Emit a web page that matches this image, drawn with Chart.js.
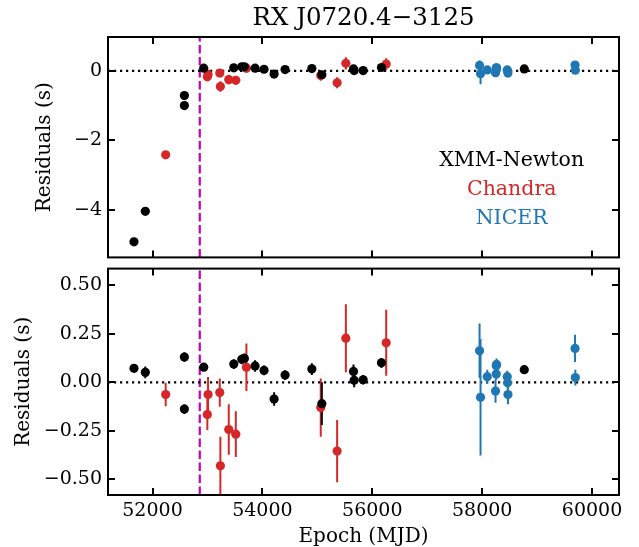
<!DOCTYPE html>
<html><head><meta charset="utf-8">
<script src="https://cdn.jsdelivr.net/npm/chart.js@4/dist/chart.umd.min.js"></script>
<style>
html,body{margin:0;padding:0;background:#fff;}
#wrap{position:relative;width:639px;height:547px;overflow:hidden;}
#c1,#c2{position:absolute;left:0;}
#c1{top:0;}
#c2{top:264px;}
</style></head><body>
<div id="wrap"><canvas id="c1" width="639" height="262"></canvas><canvas id="c2" width="639" height="283"></canvas></div>
<script>
// ---------- data ----------
const title = 'RX J0720.4\u22123125';
const xLimits = [51190, 60490];
const glitchMJD = 52860;
const xTickValues = [52000, 54000, 56000, 58000, 60000];

// XMM-Newton
const xmmMJD  = [51663, 51869, 52580, 52580, 52932, 53479, 53625, 53672, 53867, 54030, 54213, 54413, 54900, 55082, 55658, 55670, 55834, 56167, 58766];
const xmmTop  = [-4.93, -4.05, -0.71, -1.00, 0.08, 0.09, 0.12, 0.12, 0.08, 0.05, -0.09, 0.04, 0.07, -0.11, 0.06, 0.01, 0.01, 0.10, 0.06];
const xmmRes  = [0.072, 0.051, 0.130, -0.138, 0.078, 0.094, 0.118, 0.123, 0.084, 0.061, -0.086, 0.037, 0.068, -0.110, 0.056, 0.010, 0.013, 0.100, 0.065];
const xmmErr  = [0.020, 0.030, 0.025, 0.025, 0.020, 0.025, 0.025, 0.025, 0.030, 0.025, 0.035, 0.025, 0.030, 0.110, 0.035, 0.035, 0.025, 0.025, 0.010];

// Chandra
const chaMJD  = [52240, 53011, 52998, 53224, 53235, 53388, 53516, 53709, 55062, 55360, 55519, 56253];
const chaTop  = [-2.42, -0.10, -0.17, -0.06, -0.45, -0.25, -0.27, 0.08, -0.13, -0.34, 0.22, 0.20];
const chaRes  = [-0.063, -0.063, -0.166, -0.053, -0.430, -0.243, -0.267, 0.077, -0.130, -0.354, 0.227, 0.203];
const chaErr  = [0.060, 0.090, 0.080, 0.073, 0.150, 0.130, 0.118, 0.122, 0.150, 0.160, 0.175, 0.170];

// NICER
const nicMJD  = [57952, 57970, 58092, 58243, 58256, 58262, 58256, 58456, 58462, 58469, 59690, 59695];
const nicTop  = [0.16, -0.08, 0.03, -0.05, 0.09, 0.09, 0.04, 0.03, 0.00, -0.06, 0.17, 0.02];
const nicRes  = [0.162, -0.077, 0.029, -0.045, 0.085, 0.092, 0.043, 0.029, -0.002, -0.063, 0.174, 0.024];
const nicErr  = [0.140, 0.300, 0.035, 0.060, 0.030, 0.030, 0.030, 0.030, 0.030, 0.050, 0.070, 0.040];

const topYLimits = [-5.38, 0.98];
const topYTicks = [-4, -2, 0];
const botYLimits = [-0.58, 0.585];
const botYTicks = [-0.5, -0.25, 0, 0.25, 0.5];

const legendLabels = ['XMM-Newton', 'Chandra', 'NICER'];
const colors = {xmm: '#000000', cha: '#d62728', nic: '#1f77b4'};
const legendColors = [colors.xmm, colors.cha, colors.nic];

// ---------- helpers ----------
Chart.defaults.font.family = "'DejaVu Serif', serif";
Chart.defaults.color = '#000';

function pts(m, v) { return m.map((x, i) => ({x: x, y: v[i]})); }
function bars(m, v, e) {
  const d = [];
  m.forEach((x, i) => { d.push({x: x, y: v[i] - e[i]}, {x: x, y: v[i] + e[i]}, {x: x, y: null}); });
  return d;
}
const minus = s => s.replace('-', '\u2212');

function datasets(top) {
  const yl = top ? topYLimits : botYLimits;
  const sets = [];
  const series = [
    [xmmMJD, top ? xmmTop : xmmRes, xmmErr, colors.xmm],
    [chaMJD, top ? chaTop : chaRes, chaErr, colors.cha],
    [nicMJD, top ? nicTop : nicRes, nicErr, colors.nic]
  ];
  series.forEach(s => {
    sets.push({data: pts(s[0], s[1]), showLine: false, pointRadius: 4.6, pointBorderWidth: 0,
      pointBackgroundColor: s[3], borderColor: s[3], backgroundColor: s[3]});
  });
  series.forEach(s => {
    sets.push({data: bars(s[0], s[1], s[2]), showLine: true, spanGaps: false, pointRadius: 0,
      borderWidth: 2, borderColor: s[3]});
  });
  sets.push({data: [{x: xLimits[0], y: 0}, {x: xLimits[1], y: 0}], pointRadius: 0, borderWidth: 2.2,
    borderColor: '#000', borderDash: [2.2, 3.8]});
  sets.push({data: [{x: glitchMJD, y: yl[0]}, {x: glitchMJD, y: yl[1]}], pointRadius: 0, borderWidth: 2.2,
    borderColor: '#bf00bf', borderDash: [8.5, 3.5]});
  return sets;
}

const frame = {
  id: 'frame',
  afterDatasetsDraw(chart) {
    const {ctx, chartArea: {left, right, top, bottom}, scales: {x, y}} = chart;
    const L = 7;
    ctx.save();
    ctx.strokeStyle = '#000';
    ctx.lineWidth = 2;
    ctx.beginPath();
    x.ticks.forEach(t => {
      const p = Math.round(x.getPixelForValue(t.value));
      ctx.moveTo(p, top); ctx.lineTo(p, top + L);
      ctx.moveTo(p, bottom); ctx.lineTo(p, bottom - L);
    });
    y.ticks.forEach(t => {
      const p = Math.round(y.getPixelForValue(t.value));
      ctx.moveTo(left, p); ctx.lineTo(left + L, p);
      ctx.moveTo(right, p); ctx.lineTo(right - L, p);
    });
    ctx.stroke();
    ctx.strokeRect(left, top, right - left, bottom - top);
    if (chart.canvas.id === 'c1') {
      ctx.font = "20.5px 'DejaVu Serif', serif";
      ctx.textAlign = 'center';
      ctx.textBaseline = 'middle';
      const fy = [0.563, 0.693, 0.825];
      legendLabels.forEach((lab, i) => {
        ctx.fillStyle = legendColors[i];
        ctx.fillText(lab, left + 0.79 * (right - left), top + fy[i] * (bottom - top));
      });
    }
    ctx.restore();
  }
};

function setTicks(values) {
  return s => { s.ticks = values.map(v => ({value: v})); };
}

function makeChart(id, top) {
  const yl = top ? topYLimits : botYLimits;
  return new Chart(document.getElementById(id), {
    type: 'line',
    data: {datasets: datasets(top)},
    plugins: [frame],
    options: {
      responsive: false,
      animation: false,
      devicePixelRatio: 1,
      layout: {padding: top ? {left: 33, right: 20, top: 0, bottom: 2} : {left: 12, right: 20, top: 4, bottom: 0}},
      plugins: {
        legend: {display: false},
        tooltip: {enabled: false},
        title: top ? {display: true, text: title, fullSize: false, color: '#000',
          font: {size: 24.5, weight: 'normal', lineHeight: 1.2}, padding: {top: 4.3, bottom: 3.3}} : {display: false}
      },
      scales: {
        x: {
          type: 'linear', min: xLimits[0], max: xLimits[1],
          grid: {display: false, drawTicks: false}, border: {display: false},
          afterBuildTicks: setTicks(xTickValues),
          ticks: {display: !top, autoSkip: false, maxRotation: 0,
            font: {size: 19}, padding: 5, color: '#000', callback: v => String(v)},
          title: {display: !top, text: 'Epoch (MJD)', font: {size: 20, lineHeight: 1}, padding: 0, color: '#000'},
          afterFit: s => { s.height = top ? 0 : 52; s.paddingLeft = 0; s.paddingRight = 0; }
        },
        y: {
          type: 'linear', min: yl[0], max: yl[1],
          grid: {display: false, drawTicks: false}, border: {display: false},
          afterBuildTicks: setTicks(top ? topYTicks : botYTicks),
          ticks: {autoSkip: false,
            font: {size: 19}, padding: 6, color: '#000',
            callback: v => top ? minus(String(v)) : minus(Number(v).toFixed(2))},
          title: {display: true, text: 'Residuals (s)', font: {size: 20, lineHeight: 1.2}, padding: 0, color: '#000'},
          afterFit: s => { s.width = top ? 75 : 96; s.paddingTop = 0; s.paddingBottom = 0; }
        }
      }
    }
  });
}

makeChart('c1', true);
makeChart('c2', false);
</script>
</body></html>
